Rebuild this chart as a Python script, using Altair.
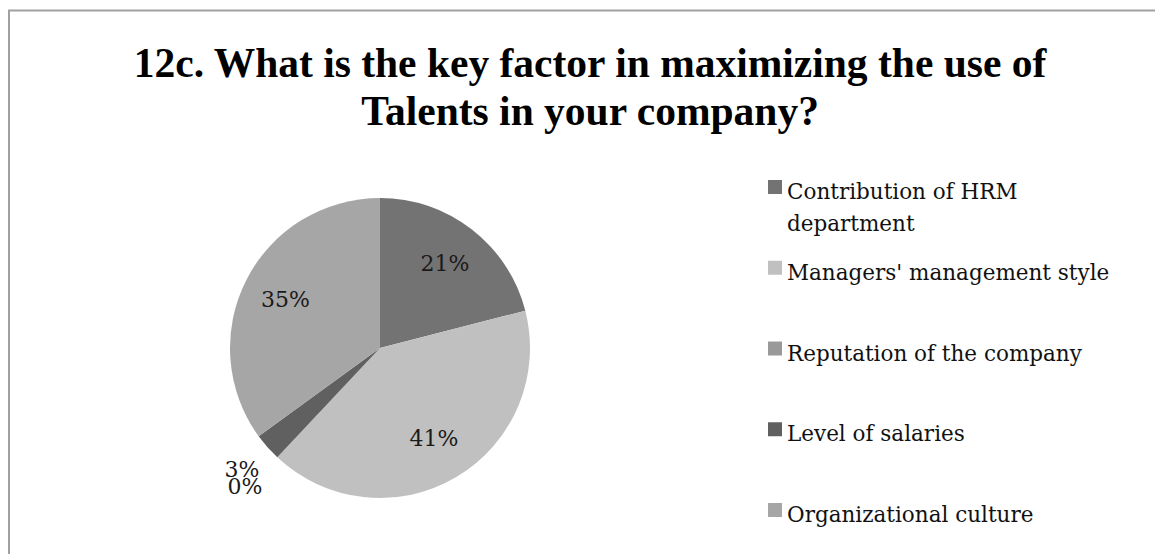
import altair as alt
import pandas as pd

# ---- data ----
categories = [
    "Contribution of HRM department",
    "Managers' management style",
    "Reputation of the company",
    "Level of salaries",
    "Organizational culture",
]
legend_labels = [
    "Contribution of HRM\ndepartment",
    "Managers' management style",
    "Reputation of the company",
    "Level of salaries",
    "Organizational culture",
]
percent = [21, 41, 0, 3, 35]
colors = ["#737373", "#c0c0c0", "#999999", "#606060", "#a6a6a6"]
title_lines = [
    "12c. What is the key factor in maximizing the use of",
    "Talents in your company?",
]

df = pd.DataFrame({
    "category": categories,
    "legend": legend_labels,
    "pct": percent,
    "rank": list(range(len(categories))),
})

W, H = 1147, 546
CX, CY, R = 372, 340, 150
SERIF = "DejaVu Serif"

color = alt.Color("category:N", scale=alt.Scale(domain=categories, range=colors), legend=None)
base = alt.Chart(df)

pie = base.mark_arc(outerRadius=R).encode(
    theta=alt.Theta("pct:Q", stack=True),
    order=alt.Order("rank:Q"),
    color=color,
    x=alt.value(CX),
    y=alt.value(CY),
)


def label_layer(cond, radius, dx=0, dy=0):
    return base.transform_calculate(
        lab=f"({cond}) ? datum.pct + '%' : ''"
    ).mark_text(
        font=SERIF, fontSize=22, color="#1a1a1a", align="center",
        baseline="middle", radius=radius, dx=dx, dy=dy,
    ).encode(
        theta=alt.Theta("pct:Q", stack=True),
        order=alt.Order("rank:Q"),
        text="lab:N",
        x=alt.value(CX),
        y=alt.value(CY),
    )


labels_big = label_layer("datum.pct >= 5", 106)
labels_small = label_layer("datum.pct > 0 && datum.pct < 5", 184)
labels_zero = label_layer("datum.pct == 0", 184, dx=-9, dy=5)

ypos = alt.Y(
    "category:N",
    scale=alt.Scale(type="point", domain=categories, range=[179, 502], padding=0),
    axis=None,
)

squares = base.mark_square(size=196, opacity=1).encode(
    y=ypos,
    x=alt.value(767),
    color=color,
)

legend_text = base.mark_text(
    font=SERIF, fontSize=21.5, color="#111111", align="left",
    baseline="alphabetic", dy=12, lineBreak="\n", lineHeight=32,
).encode(
    y=ypos,
    x=alt.value(779),
    text="legend:N",
)

blank = alt.Data(values=[{}])
frame_top = alt.Chart(blank).mark_rule(color="#a0a0a0", strokeWidth=2).encode(
    x=alt.value(0), x2=alt.value(W), y=alt.value(2.5)
)
frame_left = alt.Chart(blank).mark_rule(color="#a0a0a0", strokeWidth=2).encode(
    x=alt.value(1), y=alt.value(2.5), y2=alt.value(H)
)

title = alt.Chart(blank).mark_text(
    text=title_lines, font="Liberation Serif", fontSize=41.5, fontWeight="bold",
    color="#000000", align="center", baseline="alphabetic", lineHeight=48,
).encode(x=alt.value(582), y=alt.value(69))

chart = alt.layer(
    frame_top, frame_left, title, pie,
    labels_big, labels_small, labels_zero, squares, legend_text,
).properties(
    width=W, height=H, padding=0, autosize="none"
).configure_view(stroke=None)

chart.save("out.html", embed_options={"renderer": "svg", "actions": False})
